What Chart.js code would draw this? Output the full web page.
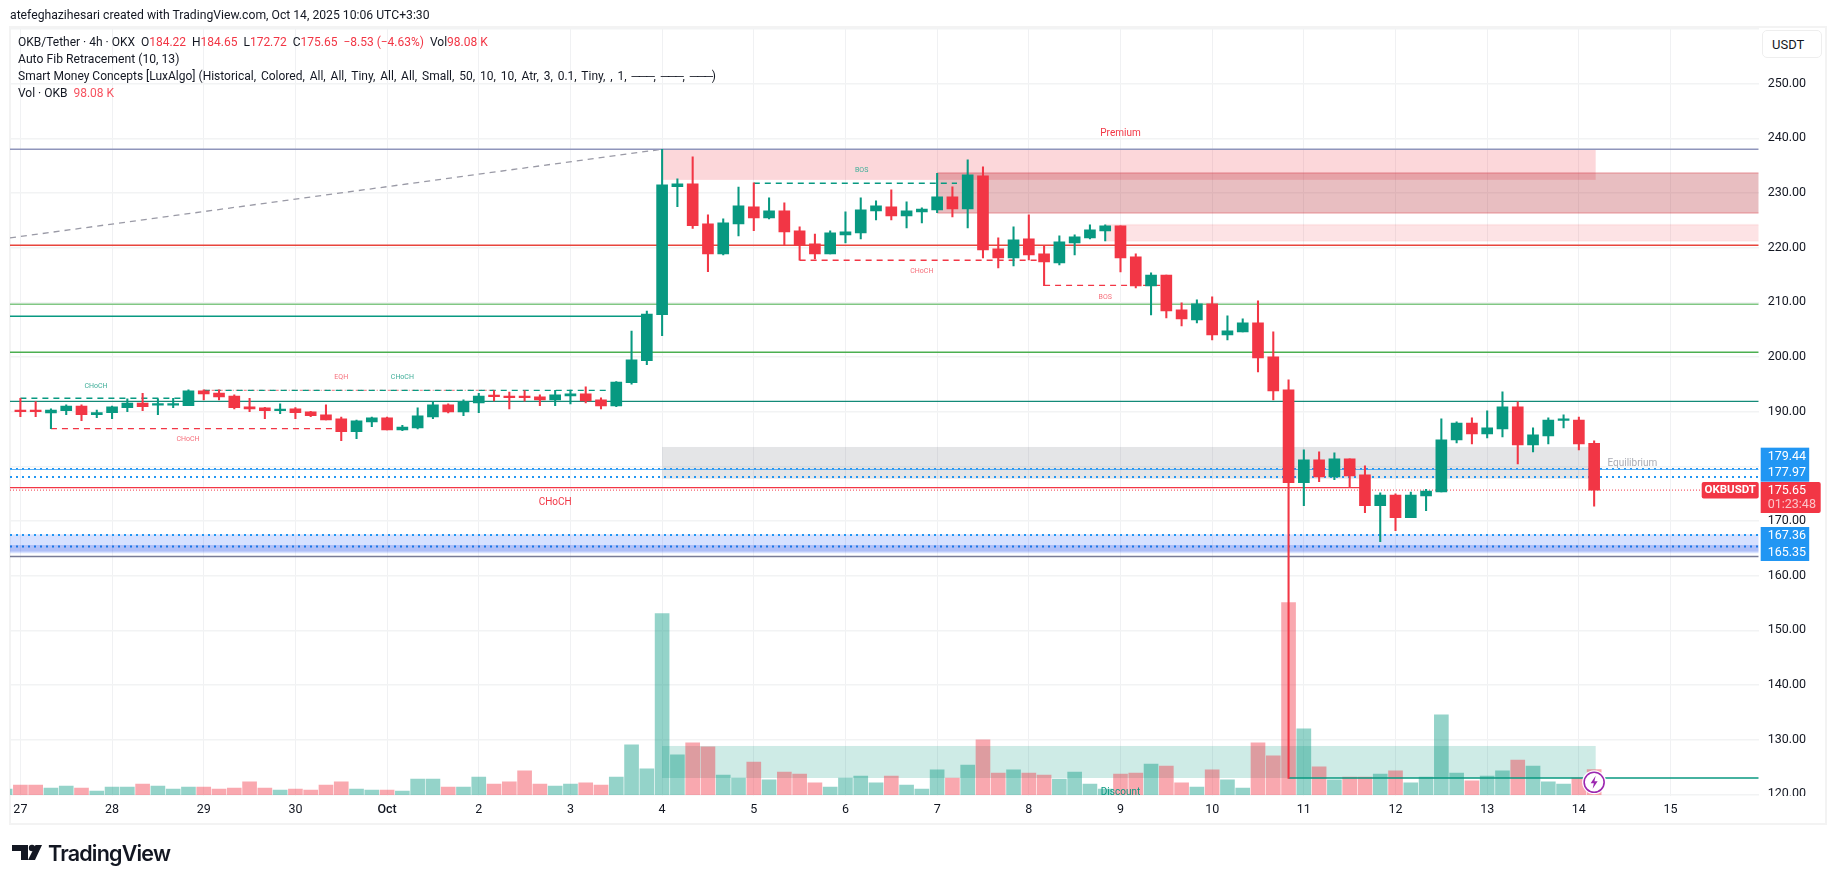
<!DOCTYPE html>
<html>
<head>
<meta charset="utf-8">
<title>OKB/Tether 4h</title>
<script src="https://cdn.jsdelivr.net/npm/chart.js@4/dist/chart.umd.min.js"></script>
<style>
    html, body { margin: 0; padding: 0; background: #fff; width: 1835px; height: 883px; overflow: hidden; }
    body { font-family: Roboto, "Liberation Sans", sans-serif; color: #131722; position: relative; }
    canvas { position: absolute; left: 0; top: 0; }
    .frame { position: absolute; left: 9px; top: 26px; width: 1814px; height: 795px; border: 2px solid #f3f3f3; }
    .text { position: absolute; white-space: nowrap; font-size: 12px; line-height: 16px; z-index: 2; }
    .red { color: #f23645; }
    .dash { letter-spacing: -1.2px; }
    .logo { position: absolute; left: 12px; top: 842px; z-index: 2; }
    .logoText { position: absolute; left: 48px; top: 838px; font: 600 21.5px/30px Inter, Roboto, sans-serif; letter-spacing: -0.8px; color: #131722; }
    .usdt { position: absolute; left: 1762px; top: 30px; width: 58px; height: 26px; border: 1px solid #eeeeee; border-radius: 5px; font-size: 13px; line-height: 27px; text-indent: 9px; background: #fff; z-index: 2; }
</style>
</head>
<body>
<div class="frame"></div>
<canvas id="chart" width="1835" height="883"></canvas>
<div class="text" style="left:10px;top:7px;font-size:12.2px">atefeghazihesari created with TradingView.com, Oct 14, 2025 10:06 UTC+3:30</div>
<div class="text" style="left:18px;top:34px">OKB/Tether · 4h · OKX&nbsp; O<span class="red">184.22</span>&nbsp; H<span class="red">184.65</span>&nbsp; L<span class="red">172.72</span>&nbsp; C<span class="red">175.65</span>&nbsp; <span class="red">−8.53 (−4.63%)</span>&nbsp; Vol<span class="red">98.08 K</span></div>
<div class="text" style="left:18px;top:51px;font-size:12.2px">Auto Fib Retracement (10, 13)</div>
<div class="text" style="left:18px;top:68px">Smart Money Concepts [LuxAlgo] <span style="word-spacing:1.9px">(Historical, Colored, All, All, Tiny, All, All, Small, 50, 10, 10, Atr, 3, 0.1, Tiny, , 1, <span class="dash">───</span>, <span class="dash">───</span>, <span class="dash">───</span>)</span></div>
<div class="text" style="left:18px;top:85px">Vol · OKB&nbsp; <span style="color:#f7525f">98.08 K</span></div>
<div class="usdt">USDT</div>
<svg class="logo" width="32" height="20" viewBox="0 0 32 20">
    <path d="M0 3h16v15H9V9H0z" fill="#131722"/>
    <circle cx="20" cy="6" r="3.2" fill="#131722"/>
    <path d="M23.5 3H30L23 18h-7z" fill="#131722"/>
</svg>
<div class="logoText">TradingView</div>

<script>
// one label per day, the candles are 4h so 6 candles per day
const dayLabels = ['27', '28', '29', '30', 'Oct', '2', '3', '4', '5', '6', '7', '8', '9', '10', '11', '12', '13', '14', '15'];

// candles
const opens = [
    190.3, 190.15, 189.76, 190.19, 191.04, 189.46, 189.83, 190.74, 191.59, 191.2, 191.2, 191.1, 193.79, 193.42, 192.87, 190.86, 190.68, 190.19,
    190.5, 189.95, 189.4, 188.67, 186.35, 188.12, 188.85, 186.65, 187.02, 189.03, 191.23, 189.95, 191.59, 192.87, 192.69, 192.69, 192.69, 192.14,
    192.87, 193.24, 192.14, 191.04, 195.3, 199.33, 207.76, 231.17, 231.66, 224.34, 218.86, 224.34, 227.45, 225.44, 226.72, 223.06, 220.69, 218.86,
    222.33, 222.7, 226.72, 227.45, 225.81, 226.54, 226.9, 229.28, 227.08, 233.12, 219.77, 218.12, 221.6, 218.86, 217.21, 220.87, 221.78, 223.06,
    223.98, 218.31, 213.0, 215.0, 208.61, 206.78, 209.71, 204.04, 204.59, 206.23, 200.01, 193.97, 177.02, 181.17, 178.06, 181.35, 178.42, 172.81,
    174.76, 170.62, 174.58, 175.31, 184.83, 187.93, 185.92, 186.84, 190.86, 183.91, 185.56, 188.4, 188.48, 184.22
];
const highs = [
    192.45, 191.84, 190.5, 191.23, 191.23, 190.31, 191.04, 192.33, 193.36, 192.33, 192.45, 193.97, 193.97, 193.97, 193.06, 192.45, 190.8, 191.41,
    190.74, 190.07, 191.23, 189.03, 188.48, 189.03, 189.03, 187.51, 190.68, 191.78, 191.41, 192.14, 193.36, 193.85, 193.6, 193.85, 193.06, 193.9,
    193.95, 194.52, 192.51, 195.5, 204.76, 208.42, 238.0, 232.58, 236.6, 225.99, 225.26, 231.1, 231.84, 229.1, 228.19, 223.79, 222.5, 223.06,
    226.54, 229.1, 228.55, 230.56, 228.37, 227.27, 233.6, 231.11, 236.05, 234.77, 221.78, 223.8, 225.99, 220.32, 222.15, 222.33, 224.16, 224.16,
    223.98, 218.86, 215.38, 215.0, 209.89, 210.44, 211.0, 207.51, 206.97, 210.26, 204.59, 195.81, 183.0, 182.63, 182.45, 181.35, 180.07, 175.13,
    174.95, 175.31, 175.8, 188.67, 188.12, 188.85, 190.13, 193.61, 191.78, 187.02, 188.85, 189.4, 189.03, 184.65
];
const lows = [
    189.09, 189.09, 186.9, 189.46, 188.36, 188.91, 188.73, 190.0, 190.19, 189.46, 190.74, 191.1, 192.14, 192.14, 190.5, 190.0, 188.73, 189.64,
    188.73, 189.09, 188.48, 184.7, 185.07, 187.26, 186.65, 186.53, 186.84, 188.73, 189.76, 189.28, 189.83, 191.96, 190.5, 191.9, 191.1, 191.1,
    191.41, 191.59, 190.5, 190.92, 195.01, 198.6, 203.9, 227.5, 223.5, 215.6, 218.67, 222.15, 223.1, 225.26, 220.44, 217.7, 217.94, 218.86,
    220.87, 221.6, 225.08, 225.08, 223.6, 224.53, 226.4, 225.62, 223.6, 218.12, 216.3, 216.66, 217.76, 213.06, 216.84, 218.67, 221.6, 221.23,
    215.56, 212.64, 207.7, 207.15, 205.68, 206.23, 203.1, 203.1, 204.59, 197.27, 192.15, 122.9, 172.81, 177.2, 177.57, 176.23, 171.53, 166.23,
    168.24, 170.62, 171.9, 175.31, 184.27, 184.09, 185.19, 185.37, 180.44, 182.63, 184.09, 187.02, 183.0, 172.72
];
const closes = [
    190.0, 190.0, 190.31, 191.04, 189.46, 189.83, 190.86, 191.59, 190.92, 191.25, 191.25, 193.79, 193.24, 192.69, 190.74, 190.5, 190.19, 190.31,
    189.83, 189.28, 188.48, 186.35, 188.3, 188.85, 186.65, 187.2, 189.22, 191.23, 189.95, 191.9, 192.87, 192.75, 192.57, 192.57, 192.14, 193.06,
    193.24, 191.96, 191.04, 195.43, 199.46, 207.87, 231.48, 231.66, 224.04, 218.86, 224.53, 227.64, 225.44, 226.72, 222.88, 220.44, 218.86, 222.7,
    222.88, 226.9, 227.64, 225.81, 226.72, 227.08, 229.28, 227.08, 233.31, 219.59, 218.12, 221.42, 218.67, 217.39, 221.05, 221.97, 223.25, 223.98,
    218.12, 213.0, 215.0, 208.43, 206.97, 209.71, 204.04, 204.77, 206.23, 199.83, 193.8, 177.02, 181.17, 178.06, 181.35, 178.24, 172.81, 174.76,
    170.62, 174.76, 175.49, 184.83, 187.93, 185.92, 187.02, 190.86, 183.91, 185.74, 188.48, 188.48, 184.09, 175.65
];
// volume in thousands, the first bar is the half hidden one left of the first candle
const volumes = [
    22, 38, 38, 26, 34, 26, 14, 30, 30, 42, 34, 22, 30, 30, 22, 26, 50, 26, 18, 22, 18, 38, 50, 22, 18, 18, 14, 61, 61, 30, 30, 69, 42, 50, 93, 42, 34,
    42, 46, 38, 69, 195, 101, 709, 156, 203, 187, 77, 65, 128, 58, 89, 81, 46, 30, 65, 73, 46, 73, 38, 22, 97, 65, 116, 215, 85, 97, 85, 77, 61, 89, 42,
    22, 81, 85, 120, 112, 46, 30, 97, 58, 26, 203, 152, 752, 258, 109, 58, 69, 69, 81, 93, 46, 69, 313, 85, 54, 73, 93, 136, 112, 50, 42, 65, 98.08
];

// price zones: [first candle, last candle, lower price, upper price]
const paneStart = -0.68;
const paneEnd = 113.77;
const premiumZone = [42, 103.1, 232.4, 238];
const supplyZone = [60, paneEnd, 226.4, 233.6];
const weakSupplyZone = [71, paneEnd, 221.3, 224.16];
const equilibriumZone = [42, 103.1, 177.74, 183.54];
const discountZone = [42, 103.1, 122.98, 128.84];
const blueZone = [paneStart, paneEnd, 164.1, 167.55];
const blueZoneInner = [paneStart, paneEnd, 164.4, 165.6];

// dashed structure lines: [first candle, last candle, price]
const chochUp1 = [0, 10.6, 192.45];
const chochDown1 = [2, 21, 186.9];
const eqhUp = [12, 38.6, 193.9];
const eqhDown = [12, 31, 193.9];
const bosUp = [48, 61.3, 231.78];
const chochDown2 = [51, 66.7, 217.7];
const bosDown = [67, 74.6, 213.1];

// text on the chart: [text, candle, price]
const tealLabels = [['CHoCH', 4.95, 194.6], ['CHoCH', 25, 196.3], ['BOS', 55.06, 234.2]];
const redLabels = [['CHoCH', 10.97, 184.95], ['EQH', 21, 196.3], ['CHoCH', 59, 215.7], ['BOS', 71, 210.86]];
const zoneLabels = [['Premium', 72, 240.86], ['CHoCH', 35, 173.3]];
const equilibriumLabel = ['Equilibrium', 105.5, 180.43];
const discountLabel = ['Discount', 72, 120.4];

const upColor = '#089981';
const downColor = '#f23645';
const isUp = closes.map((c, i) => c >= opens[i]);
const barColors = isUp.map(up => up ? upColor : downColor);
// first volume bar belongs to the candle before the chart starts
const volumeColors = [true].concat(isUp).map(up => up ? 'rgba(8,153,129,0.43)' : 'rgba(242,54,69,0.43)');

// horizontal line drawn as its own small dataset
function levelLine(price, from, to, color, width, dash) {
    return {
        type: 'line',
        data: [{ x: from, y: price }, { x: to, y: price }],
        borderColor: color,
        borderWidth: width,
        borderDash: dash || [],
        pointRadius: 0,
        yAxisID: 'y',
        order: 4
    };
}

const overlayPlugin = {
    id: 'overlay',
    beforeDatasetsDraw(chart) {
        const { ctx, chartArea, scales } = chart;

        function zone(values, fill, edge) {
            const x0 = scales.x.getPixelForValue(values[0]);
            const x1 = scales.x.getPixelForValue(values[1]);
            const y0 = scales.y.getPixelForValue(values[3]);
            const y1 = scales.y.getPixelForValue(values[2]);
            ctx.fillStyle = fill;
            ctx.fillRect(x0, y0, x1 - x0, y1 - y0);
            if (edge) {
                ctx.fillStyle = edge;
                ctx.fillRect(x0, y0 - 1, x1 - x0, 1.5);
                ctx.fillRect(x0, y1 - 0.5, x1 - x0, 1.5);
            }
        }

        ctx.save();
        ctx.beginPath();
        ctx.rect(chartArea.left, chartArea.top, chartArea.right - chartArea.left, chartArea.bottom - chartArea.top);
        ctx.clip();
        zone(premiumZone, 'rgba(242,54,69,0.2)');
        zone(supplyZone, 'rgba(178,40,51,0.3)', 'rgba(210,60,70,0.4)');
        zone(weakSupplyZone, 'rgba(242,54,69,0.14)', 'rgba(242,54,69,0.1)');
        zone(equilibriumZone, 'rgba(120,123,134,0.2)');
        zone(discountZone, 'rgba(8,153,129,0.2)');
        zone(blueZone, 'rgba(41,98,255,0.19)');
        zone(blueZoneInner, 'rgba(30,70,220,0.22)');
        ctx.restore();
    },
    afterDraw(chart) {
        const { ctx, chartArea, scales } = chart;

        function label(item, color, font) {
            ctx.fillStyle = color;
            ctx.font = font;
            ctx.textAlign = 'center';
            ctx.textBaseline = 'middle';
            ctx.fillText(item[0], scales.x.getPixelForValue(item[1]), scales.y.getPixelForValue(item[2]));
        }

        // price tag on the axis, nudged away from its line so tags do not overlap
        function tag(text, price, shift, color) {
            const y = scales.y.getPixelForValue(price) + shift;
            ctx.fillStyle = color;
            ctx.font = '12.5px Roboto';
            ctx.textAlign = 'left';
            ctx.textBaseline = 'middle';
            ctx.fillText(text, chartArea.right + 9, y);
        }

        tealLabels.forEach(t => label(t, '#3fae99', '7px Roboto'));
        redLabels.forEach(t => label(t, '#f66f7b', '7px Roboto'));
        zoneLabels.forEach(t => label(t, downColor, '10px Roboto'));
        label(equilibriumLabel, '#a9abb3', '10px Roboto');
        label(discountLabel, upColor, '10px Roboto');

        // blank out the bottom of the 120 tick so it looks cut by the time axis
        ctx.fillStyle = '#fff';
        ctx.fillRect(chartArea.right + 1, chartArea.bottom, 60, 6);

        // blue tags
        const blueTop = scales.y.getPixelForValue(179.44) - 21.7;
        const blueBottom = scales.y.getPixelForValue(165.35) + 14.6;
        ctx.fillStyle = '#2196f3';
        ctx.fillRect(chartArea.right + 2, blueTop, 48.5, 34);
        ctx.fillRect(chartArea.right + 2, blueBottom - 34, 48.5, 34);
        tag('179.44', 179.44, -12.7, '#fff');
        tag('177.97', 177.97, -4.5, '#fff');
        tag('167.36', 167.36, 0.3, '#fff');
        tag('165.35', 165.35, 6.3, '#fff');

        // current price tag
        const lastY = scales.y.getPixelForValue(closes[closes.length - 1]);
        ctx.fillStyle = downColor;
        ctx.beginPath();
        ctx.roundRect(chartArea.right + 2, lastY - 8, 60, 31, [0, 2, 2, 0]);
        ctx.fill();
        ctx.beginPath();
        ctx.roundRect(chartArea.right - 57, lastY - 8, 57, 16.5, 2);
        ctx.fill();
        tag('175.65', closes[closes.length - 1], 0.5, '#fff');
        tag('01:23:48', closes[closes.length - 1], 14.5, '#fbc5ca');
        ctx.font = 'bold 11.5px Roboto';
        ctx.textAlign = 'center';
        ctx.fillStyle = '#fff';
        ctx.fillText('OKBUSDT', chartArea.right - 28.5, lastY + 0.5);

        // alert icon on the last candle
        const iconX = scales.x.getPixelForValue(103);
        const iconY = scales.y.getPixelForValue(122.2);
        ctx.beginPath();
        ctx.arc(iconX, iconY, 12, 0, Math.PI * 2);
        ctx.fillStyle = '#fff';
        ctx.fill();
        ctx.beginPath();
        ctx.arc(iconX, iconY, 10, 0, Math.PI * 2);
        ctx.strokeStyle = '#9c27b0';
        ctx.lineWidth = 1.6;
        ctx.stroke();
        ctx.beginPath();
        ctx.moveTo(iconX + 1.5, iconY - 6.5);
        ctx.lineTo(iconX - 3.5, iconY + 1);
        ctx.lineTo(iconX - 0.3, iconY + 1);
        ctx.lineTo(iconX - 1.5, iconY + 6.5);
        ctx.lineTo(iconX + 3.5, iconY - 1);
        ctx.lineTo(iconX + 0.3, iconY - 1);
        ctx.closePath();
        ctx.fillStyle = '#9c27b0';
        ctx.fill();
    }
};

const ctx = document.getElementById('chart').getContext('2d');

new Chart(ctx, {
    type: 'bar',
    data: {
        datasets: [
            // volume
            {
                data: volumes.map((v, i) => ({ x: i - 1, y: v })),
                backgroundColor: volumeColors,
                barThickness: 14,
                grouped: false,
                yAxisID: 'vol',
                order: 5
            },
            // levels
            levelLine(238, paneStart, paneEnd, '#8f95bb', 1.3),
            levelLine(220.44, paneStart, paneEnd, '#e8453c', 1.3),
            levelLine(209.65, paneStart, paneEnd, '#81c784', 1.3),
            levelLine(207.45, paneStart, 41, upColor, 1.3),
            levelLine(200.87, paneStart, paneEnd, '#4caf50', 1.3),
            levelLine(191.87, paneStart, paneEnd, '#138a78', 1.3),
            levelLine(179.57, paneStart, paneEnd, '#2196f3', 1.5, [2, 4]),
            levelLine(179.42, paneStart, paneEnd, 'rgba(33,150,243,0.75)', 1),
            levelLine(178.05, paneStart, paneEnd, '#2196f3', 2, [2, 4]),
            levelLine(176.1, paneStart, 87.7, downColor, 1.4),
            levelLine(175.65, paneStart, paneEnd, downColor, 1, [1, 2]),
            levelLine(167.45, paneStart, paneEnd, '#2196f3', 2, [2, 4]),
            levelLine(165.35, paneStart, paneEnd, '#1976e8', 2, [2, 4]),
            levelLine(163.5, paneStart, paneEnd, '#787b96', 1.4),
            levelLine(122.98, 83, paneEnd, upColor, 1.6),
            // structure lines
            levelLine(chochUp1[2], chochUp1[0], chochUp1[1], upColor, 1.4, [6, 5]),
            levelLine(chochDown1[2], chochDown1[0], chochDown1[1], downColor, 1.4, [6, 5]),
            levelLine(eqhUp[2], eqhUp[0], eqhUp[1], upColor, 1.4, [6, 5]),
            levelLine(eqhDown[2], eqhDown[0], eqhDown[1], 'rgba(247,130,140,0.9)', 1.4, [3, 2, 1, 2]),
            levelLine(bosUp[2], bosUp[0], bosUp[1], upColor, 1.4, [6, 5]),
            levelLine(chochDown2[2], chochDown2[0], chochDown2[1], downColor, 1.4, [6, 5]),
            levelLine(bosDown[2], bosDown[0], bosDown[1], downColor, 1.4, [6, 5]),
            // fib trend line
            {
                type: 'line',
                data: [{ x: paneStart, y: 221.78 }, { x: 42, y: 238 }],
                borderColor: '#9a9aa6',
                borderWidth: 1.3,
                borderDash: [6, 5],
                pointRadius: 0,
                yAxisID: 'y',
                order: 4
            },
            // wicks
            {
                data: highs.map((h, i) => ({ x: i, y: [lows[i], h] })),
                backgroundColor: barColors,
                barThickness: 1.4,
                grouped: false,
                yAxisID: 'y',
                order: 3
            },
            // bodies
            {
                data: opens.map((o, i) => ({ x: i, y: [o, closes[i]] })),
                backgroundColor: barColors,
                barThickness: 11,
                minBarLength: 1.5,
                grouped: false,
                yAxisID: 'y',
                order: 2
            }
        ]
    },
    options: {
        responsive: false,
        animation: false,
        events: [],
        layout: { padding: { left: 10, top: 29, right: 0, bottom: 0 } },
        plugins: { legend: { display: false }, tooltip: { enabled: false } },
        scales: {
            x: {
                type: 'linear',
                offset: false,
                min: paneStart,
                max: paneEnd,
                afterFit: scale => { scale.height = 87; },
                border: { display: false },
                grid: { offset: false, color: '#f0f1f3', lineWidth: 1, drawTicks: false },
                ticks: {
                    stepSize: 6,
                    includeBounds: false,
                    autoSkip: false,
                    maxRotation: 0,
                    padding: 6,
                    color: '#131722',
                    // the month label is a little heavier than the day numbers
                    font: c => ({ family: 'Roboto', size: 12.5, weight: c.tick && dayLabels[c.tick.value / 6] === 'Oct' ? '500' : '400' }),
                    callback: value => dayLabels[value / 6]
                }
            },
            y: {
                position: 'right',
                min: 119.69,
                max: 260,
                afterFit: scale => { scale.width = 76.3; },
                border: { display: false },
                grid: { color: '#f2f3f4', lineWidth: 1.4, drawTicks: false },
                ticks: {
                    stepSize: 10,
                    includeBounds: false,
                    crossAlign: 'near',
                    padding: 9,
                    color: '#131722',
                    font: { family: 'Roboto', size: 12.5 },
                    // no label at the very top, the USDT box sits there
                    callback: value => value > 250 ? '' : value.toFixed(2)
                }
            },
            vol: {
                display: false,
                min: -5.1,
                max: 2998
            }
        }
    },
    plugins: [overlayPlugin]
});
</script>
</body>
</html>
